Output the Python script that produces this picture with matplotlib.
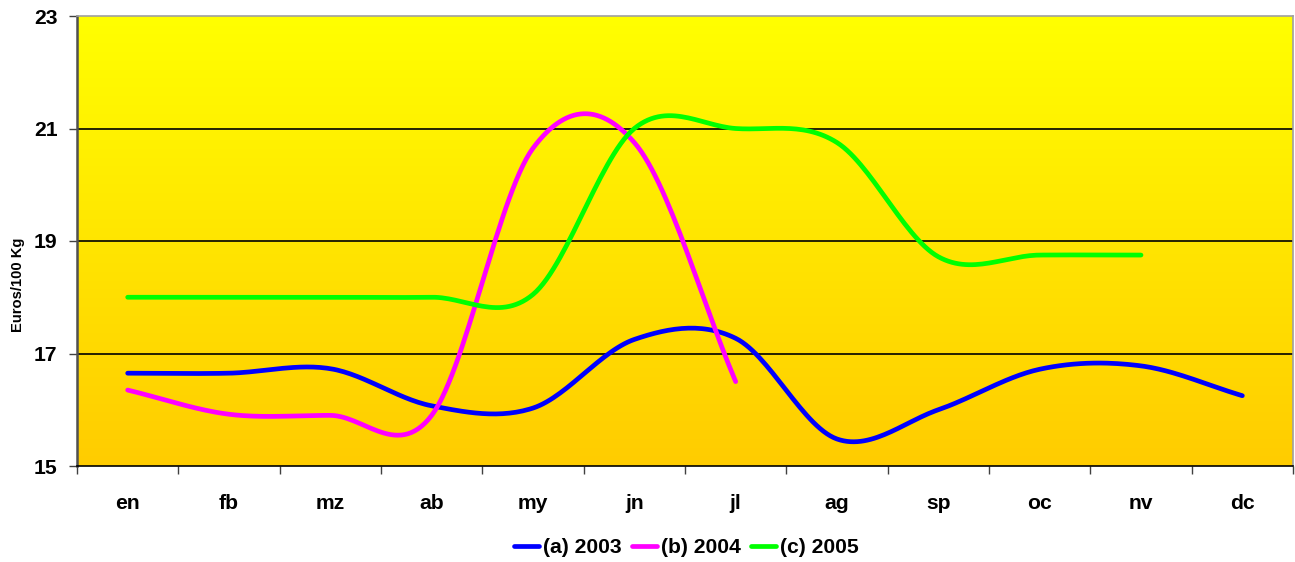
import numpy as np
import matplotlib
matplotlib.use('Agg')
import matplotlib.pyplot as plt
from matplotlib.colors import LinearSegmentedColormap

plt.rcParams['font.family'] = ['Liberation Sans', 'DejaVu Sans']

months = ['en', 'fb', 'mz', 'ab', 'my', 'jn', 'jl', 'ag', 'sp', 'oc', 'nv', 'dc']

prices_2003 = [16.65, 16.65, 16.73, 16.07, 16.03, 17.25, 17.27, 15.48, 16.0, 16.72, 16.78, 16.25]
prices_2004 = [16.35, 15.92, 15.9, 15.9, 20.65, 20.75, 16.5]
prices_2005 = [18.0, 18.0, 18.0, 18.0, 18.05, 21.0, 21.0, 20.75, 18.72, 18.75, 18.75]

series = [
    ('(a) 2003', prices_2003, '#0000FF'),
    ('(b) 2004', prices_2004, '#FF00FF'),
    ('(c) 2005', prices_2005, '#00FF00'),
]


def smooth(values, steps=30):
    # catmull-rom, like excel's "smoothed line"
    y = np.asarray(values, dtype=float)
    n = len(y)
    xs, ys = [], []
    for i in range(n - 1):
        p0 = y[i - 1] if i > 0 else y[i]
        p1, p2 = y[i], y[i + 1]
        p3 = y[i + 2] if i + 2 < n else y[i + 1]
        m1 = (p2 - p0) / (2 if i > 0 else 1)
        m2 = (p3 - p1) / (2 if i + 2 < n else 1)
        t = np.linspace(0, 1, steps, endpoint=(i == n - 2))
        h00 = 2 * t**3 - 3 * t**2 + 1
        h10 = t**3 - 2 * t**2 + t
        h01 = -2 * t**3 + 3 * t**2
        h11 = t**3 - t**2
        xs.append(i + t)
        ys.append(h00 * p1 + h10 * m1 + h01 * p2 + h11 * m2)
    return np.concatenate(xs), np.concatenate(ys)


fig = plt.figure(figsize=(12.95, 5.62), dpi=100)
ax = fig.add_axes([77 / 1295, 96 / 562, 1216 / 1295, 450 / 562])

ax.set_xlim(-0.5, len(months) - 0.5)
ax.set_ylim(15, 23)

grad = LinearSegmentedColormap.from_list('bg', ['#FFCC00', '#FFFF00'])
ax.imshow(np.linspace(0, 1, 256).reshape(-1, 1), cmap=grad, aspect='auto',
          extent=(-0.5, len(months) - 0.5, 15, 23), origin='lower', zorder=0)

for yv in [17, 19, 21]:
    ax.axhline(yv, color='black', lw=1.2, zorder=1)

for label, vals, color in series:
    x, y = smooth(vals)
    ax.plot(x, y, color=color, lw=3.4, solid_capstyle='round', label=label, zorder=3)

ax.set_yticks([15, 17, 19, 21, 23])
ax.set_xticks(range(len(months)))
ax.set_xticklabels(months)
ax.set_xticks(np.arange(-0.5, len(months)), minor=True)
ax.tick_params(axis='x', which='major', length=0, pad=20)
ax.tick_params(axis='x', which='minor', length=6, width=1, color='#404040')
ax.tick_params(axis='y', length=6, width=1, color='#404040', pad=8)
for lbl in ax.get_xticklabels() + ax.get_yticklabels():
    lbl.set_fontsize(15.2)
    lbl.set_fontweight('bold')

ax.spines['left'].set_color('#505050')
ax.spines['left'].set_linewidth(1.8)
ax.spines['bottom'].set_color('black')
ax.spines['bottom'].set_linewidth(1.2)
for s in ('top', 'right'):
    ax.spines[s].set_color('#A0A0A0')
    ax.spines[s].set_linewidth(1.2)

ax.set_ylabel('Euros/100 Kg', fontsize=10.6, fontweight='bold')
ax.yaxis.set_label_coords(-0.043, 0.402)

fig.legend(loc='center', bbox_to_anchor=(0.53, 0.025), ncol=3, frameon=False,
           prop={'size': 15.2, 'weight': 'bold'}, handlelength=1.2,
           handletextpad=0.2, columnspacing=0.45)

fig.savefig('out.png', dpi=100)
